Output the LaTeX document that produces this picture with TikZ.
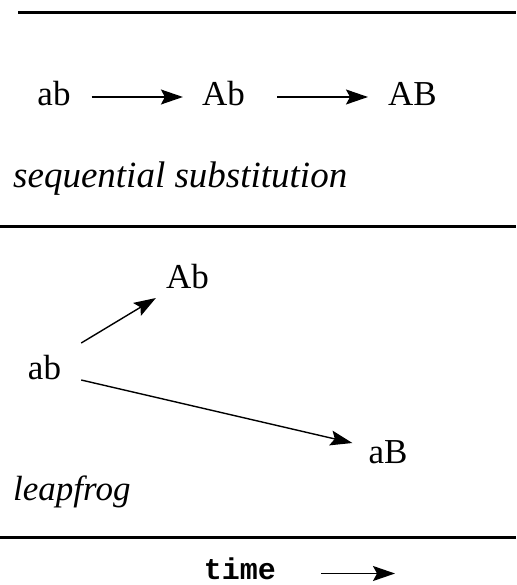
\documentclass[tikz,border=0pt]{standalone}
\usepackage{fontspec}
\setmainfont{Liberation Serif}
\setmonofont{Liberation Mono}
\usetikzlibrary{arrows.meta}
\tikzset{
  lbl/.style={inner sep=0pt, anchor=base, font=\fontsize{35}{40}\selectfont},
  captxt/.style={inner sep=0pt, anchor=base west, font=\fontsize{35}{40}\selectfont\itshape},
  tm/.style={inner sep=0pt, anchor=base, text depth=0pt, font=\fontsize{30}{34}\selectfont\ttfamily\bfseries},
  arr/.style={line width=1.4pt, -{Stealth[length=22pt,width=15pt,inset=4pt]}},
  rulestyle/.style={line width=3pt}
}
\begin{document}
\begin{tikzpicture}[x=1pt,y=-1pt]
\useasboundingbox (0,0) rectangle (516,585);
% rules
\coordinate (r1a) at (18,12.5);  \coordinate (r1b) at (516,12.5);
\coordinate (r2a) at (0,226);    \coordinate (r2b) at (516,226);
\coordinate (r3a) at (0,537);    \coordinate (r3b) at (516,537);
\draw[rulestyle] (r1a) -- (r1b);
\draw[rulestyle] (r2a) -- (r2b);
\draw[rulestyle] (r3a) -- (r3b);
% sequential
\node[lbl] (s1) at (54,106) {ab};
\node[lbl] (s2) at (223.5,106) {Ab};
\node[lbl] (s3) at (412.5,106) {AB};
\draw[arr] ([xshift=21pt,yshift=9pt]s1.base east) -- ([xshift=-19pt,yshift=9pt]s2.base west);
\draw[arr] ([xshift=32pt,yshift=9pt]s2.base east) -- ([xshift=-20pt,yshift=9pt]s3.base west);
\node[captxt, font=\fontsize{37}{42}\selectfont\itshape] (seqlbl) at (13,187) {sequential substitution};
% leapfrog
\node[lbl] (l2) at (187.5,288) {Ab};
\node[lbl] (l1) at (44.5,379) {ab};
\node[lbl] (l3) at (388,463) {aB};
\draw[arr] ([xshift=20pt,yshift=36pt]l1.base east) -- ([xshift=-10pt,yshift=-10pt]l2.base west);
\draw[arr] ([xshift=20pt,yshift=-1pt]l1.base east) -- ([xshift=-16pt,yshift=20pt]l3.base west);
\node[captxt] (leaplbl) at (13,500) {leapfrog};
% time
\node[tm] (time) at (240,579.5) {time};
\coordinate (tend) at (395,573.5);
\draw[arr] ([xshift=45pt,yshift=6pt]time.base east) -- (tend);
\end{tikzpicture}
\end{document}
